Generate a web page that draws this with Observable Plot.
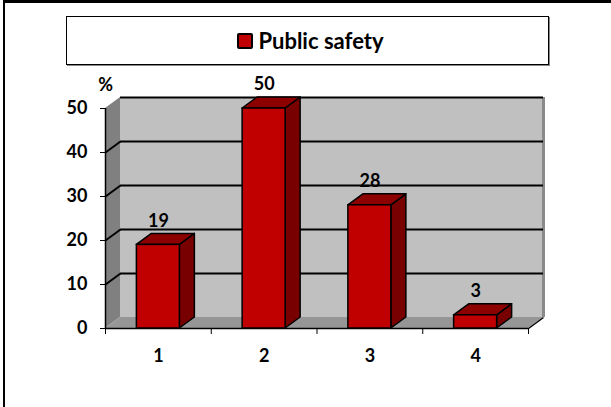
<!DOCTYPE html>
<html>
<head>
<meta charset="utf-8">
<script src="https://cdn.jsdelivr.net/npm/d3@7"></script>
<script src="https://cdn.jsdelivr.net/npm/@observablehq/plot@0.6"></script>
<style>
  html, body { margin: 0; padding: 0; background: #fff; }
  #wrap { position: relative; width: 611px; height: 407px; overflow: hidden; background: #fff; font-family: Lato, sans-serif; }
  #frame { position: absolute; left: 3px; top: 0; width: 700px; height: 500px; border-top: 3px solid #000; border-left: 2px solid #000; pointer-events: none; }
  #legend { position: absolute; left: 66px; top: 16px; width: 483px; height: 49px; box-sizing: border-box; border: 1px solid #000; box-shadow: 1px 1px 0 #888; display: flex; align-items: center; justify-content: center; padding-left: 6px; }
  #legend .sw { width: 12px; height: 12px; background: #c00000; border: 2px solid #000; border-radius: 2px; margin-right: 5px; }
  #legend .lb { font-weight: bold; font-size: 22px; color: #000; line-height: 1; }
  #chart { position: absolute; left: 0; top: 70px; }
</style>
</head>
<body>
<div id="wrap">
  <div id="legend"><div class="sw"></div><div class="lb" id="legendLabel"></div></div>
  <div id="chart"></div>
  <div id="frame"></div>
</div>
<script>
const categories = ["1", "2", "3", "4"];
const values = [19, 50, 28, 3];
const yTicks = [0, 10, 20, 30, 40, 50];
const seriesName = "Public safety";
const yUnit = "%";

document.getElementById("legendLabel").textContent = seriesName;

// 3D geometry (depth expressed in data units)
const DX = 15 / 105.75;   // horizontal depth in x units
const DY = 2.5;           // vertical depth in y units
const HW = 0.2033;        // half bar width in x units
const x0 = 0.5, x1 = categories.length + 0.5;
const yMax = yTicks[yTicks.length - 1];

const bars = categories.map((c, i) => ({cat: c, x: i + 1, v: values[i]}));
const boundaries = d3.range(categories.length + 1).map(i => i + 0.5);

const leftWall = [
  {x: x0, y1: 0, y2: yMax},
  {x: x0 + DX, y1: DY, y2: yMax + DY}
];
const floor = [
  {x: x0, y1: 0, y2: 0},
  {x: x0 + DX, y1: 0, y2: DY},
  {x: x1, y1: 0, y2: DY},
  {x: x1 + DX, y1: DY, y2: DY}
];
const sides = bars.flatMap(b => [
  {cat: b.cat, x: b.x + HW, y1: 0, y2: b.v},
  {cat: b.cat, x: b.x + HW + DX, y1: DY, y2: b.v + DY}
]);
const tops = bars.flatMap(b => [
  {cat: b.cat, x: b.x - HW, y1: b.v, y2: b.v},
  {cat: b.cat, x: b.x - HW + DX, y1: b.v, y2: b.v + DY},
  {cat: b.cat, x: b.x + HW, y1: b.v, y2: b.v + DY},
  {cat: b.cat, x: b.x + HW + DX, y1: b.v + DY, y2: b.v + DY}
]);

const chart = Plot.plot({
  width: 611,
  height: 337,
  marginTop: 38,
  marginBottom: 79,
  marginLeft: 105,
  marginRight: 83,
  x: {domain: [x0, x1], label: null},
  y: {domain: [0, yMax], label: null},
  style: {fontFamily: "Lato, sans-serif", fontSize: "18px", fontWeight: "bold", background: "transparent", color: "#000", overflow: "visible"},
  marks: [
    // back wall
    Plot.rect([0], {x1: () => x0 + DX, x2: () => x1 + DX, y1: () => DY, y2: () => yMax + DY, fill: "#c0c0c0"}),
    // left side wall
    Plot.areaY(leftWall, {x: "x", y1: "y1", y2: "y2", fill: "#808080"}),
    // floor
    Plot.areaY(floor, {x: "x", y1: "y1", y2: "y2", fill: "#969696"}),
    // back wall right edge
    Plot.ruleX([x1 + DX], {x: d => d, y1: () => DY, y2: () => yMax + DY, stroke: "#8a8a8a", strokeWidth: 3}),
    // gridlines on back wall
    Plot.ruleY(yTicks.filter(t => t > 0), {y: d => d + DY, x1: () => x0 + DX, x2: () => x1 + DX, stroke: "#000", strokeWidth: 2}),
    // gridlines across side wall
    Plot.link(yTicks.filter(t => t > 0 && t < yMax), {x1: () => x0, y1: d => d, x2: () => x0 + DX, y2: d => d + DY, stroke: "#000", strokeWidth: 2}),
    // floor right edge
    Plot.link([0], {x1: () => x1, y1: () => 0, x2: () => x1 + DX, y2: () => DY, stroke: "#000", strokeWidth: 1.5}),
    // axis lines
    Plot.ruleX([x0], {x: d => d, y1: () => 0, y2: () => yMax, stroke: "#000", strokeWidth: 1.5}),
    Plot.ruleY([0], {y: d => d, x1: () => x0, x2: () => x1, stroke: "#000", strokeWidth: 1.5}),
    // bars: side faces, top faces, front faces
    Plot.areaY(sides, {x: "x", y1: "y1", y2: "y2", z: "cat", fill: "#780000", stroke: "#000", strokeWidth: 1.5, strokeLinejoin: "round"}),
    Plot.areaY(tops, {x: "x", y1: "y1", y2: "y2", z: "cat", fill: "#8c0000", stroke: "#000", strokeWidth: 1.5, strokeLinejoin: "round"}),
    Plot.rect(bars, {x1: d => d.x - HW, x2: d => d.x + HW, y1: () => 0, y2: "v", fill: "#c00000", stroke: "#000", strokeWidth: 1.5}),
    // value labels
    Plot.text(bars, {x: "x", y: d => d.v + DY, dy: -13, text: d => String(d.v), fill: "#000"}),
    // unit label
    Plot.text([yUnit], {x: () => x0, y: () => yMax, dy: -23, text: d => d, fill: "#000"}),
    // axes
    Plot.axisY(yTicks, {tickSize: 5, tickPadding: 13, anchor: "left"}),
    Plot.axisX(boundaries, {tickSize: 6, tickFormat: () => "", anchor: "bottom"}),
    Plot.axisX(bars.map(b => b.x), {tickSize: 0, tickPadding: 21, tickFormat: d => categories[d - 1], anchor: "bottom"})
  ]
});
document.getElementById("chart").appendChild(chart);
</script>
</body>
</html>
